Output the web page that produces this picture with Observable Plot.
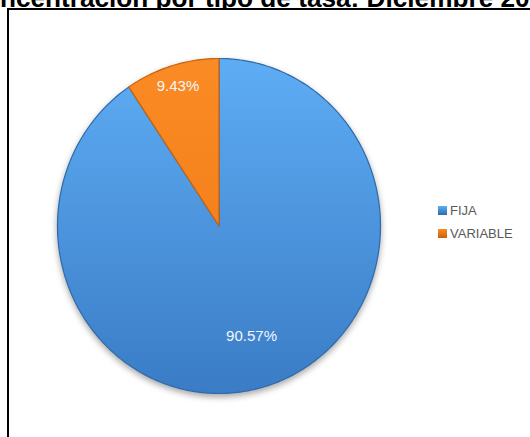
<!DOCTYPE html>
<html>
<head>
<meta charset="utf-8">
<script src="https://cdn.jsdelivr.net/npm/d3@7"></script>
<script src="https://cdn.jsdelivr.net/npm/@observablehq/plot@0.6"></script>
<style>
  html, body { margin: 0; padding: 0; background: #fff; width: 530px; height: 437px; overflow: hidden; position: relative; }
  #title { position: absolute; left: -35px; top: -15.5px; white-space: nowrap; font: bold 26.2px "Liberation Sans", Arial, sans-serif; line-height: 26.2px; color: #000; }
  #frame { position: absolute; left: 7px; top: 8px; width: 700px; height: 600px; border: 2px solid #000; box-sizing: border-box; background: #fff; }
  #chart { position: absolute; left: 0; top: 0; }
  #legend { position: absolute; left: 438px; top: 203px; font: 13px "Liberation Sans", Arial, sans-serif; color: #595959; }
  .item { display: flex; align-items: center; height: 31px; margin-top: -8px; }
  .sw { width: 9px; height: 9px; margin-right: 3px; }
</style>
</head>
<body>
<div id="title">Concentración por tipo de tasa: Diciembre 2013</div>
<div id="frame"></div>
<div id="chart"></div>
<div id="legend"></div>
<script>
const categories = ["FIJA", "VARIABLE"];
const values = [90.57, 9.43];
const labels = ["90.57%", "9.43%"];
const colors = ["#4a92dc", "#f5821f"];

const labelRadius = [0.69, 0.87];
const arcs = d3.pie().sort(null)(values);

const points = [];
arcs.forEach((a, i) => {
  points.push({cat: categories[i], x: 0, y: 0});
  const n = Math.max(8, Math.ceil((a.endAngle - a.startAngle) * 60));
  for (let k = 0; k <= n; k++) {
    const t = a.startAngle + (a.endAngle - a.startAngle) * k / n;
    points.push({cat: categories[i], x: Math.sin(t), y: Math.cos(t)});
  }
  points.push({cat: categories[i], x: 0, y: 0});
});
const labelData = arcs.map((a, i) => {
  const m = (a.startAngle + a.endAngle) / 2;
  return {label: labels[i], x: Math.sin(m) * labelRadius[i], y: Math.cos(m) * labelRadius[i]};
});

const svg = Plot.plot({
  width: 530, height: 437,
  marginLeft: 57, marginRight: 150, marginTop: 58, marginBottom: 44,
  x: {domain: [-1, 1], axis: null},
  y: {domain: [-1, 1], axis: null},
  color: {domain: categories, range: colors},
  style: {background: "transparent", overflow: "visible"},
  marks: [
    Plot.line(points, {x: "x", y: "y", z: "cat", fill: "cat", stroke: "cat", strokeWidth: 1.2, curve: "linear"}),
    Plot.text(labelData, {x: "x", y: "y", text: "label", fill: "#f2f6fb", fontSize: 15, fontFamily: "Liberation Sans, Arial, sans-serif"})
  ]
});

// gradients
const ns = "http://www.w3.org/2000/svg";
const defs = document.createElementNS(ns, "defs");
const grads = [["#5eadf4", "#3a7cc6"], ["#fb8b25", "#ee7712"]];
const edges = ["#2f6aab", "#c9620a"];
categories.forEach((c, i) => {
  const g = document.createElementNS(ns, "linearGradient");
  g.setAttribute("id", "grad" + i);
  g.setAttribute("gradientUnits", "userSpaceOnUse");
  g.setAttribute("x1", 0); g.setAttribute("y1", 58);
  g.setAttribute("x2", 0); g.setAttribute("y2", 393);
  [[0, grads[i][0]], [1, grads[i][1]]].forEach(([o, col]) => {
    const s = document.createElementNS(ns, "stop");
    s.setAttribute("offset", o); s.setAttribute("stop-color", col);
    g.appendChild(s);
  });
  defs.appendChild(g);
});
svg.insertBefore(defs, svg.firstChild);
const lineG = svg.querySelector('g[aria-label="line"]');
lineG.style.filter = "drop-shadow(0px 3px 3px rgba(0,0,0,0.35))";
lineG.querySelectorAll("path").forEach(p => {
  const f = (p.getAttribute("fill") || "").toLowerCase();
  const i = colors.findIndex(c => c.toLowerCase() === f);
  if (i >= 0) {
    p.setAttribute("fill", "url(#grad" + i + ")");
    p.setAttribute("stroke", edges[i]);
    p.setAttribute("stroke-linejoin", "round");
  }
});
document.getElementById("chart").appendChild(svg);

// legend
const legend = document.getElementById("legend");
categories.forEach((c, i) => {
  const item = document.createElement("div");
  item.className = "item";
  const sw = document.createElement("div");
  sw.className = "sw";
  sw.style.background = `linear-gradient(${grads[i][0]}, ${edges[i]})`;
  const t = document.createElement("span");
  t.textContent = c;
  item.appendChild(sw); item.appendChild(t);
  legend.appendChild(item);
});
</script>
</body>
</html>
